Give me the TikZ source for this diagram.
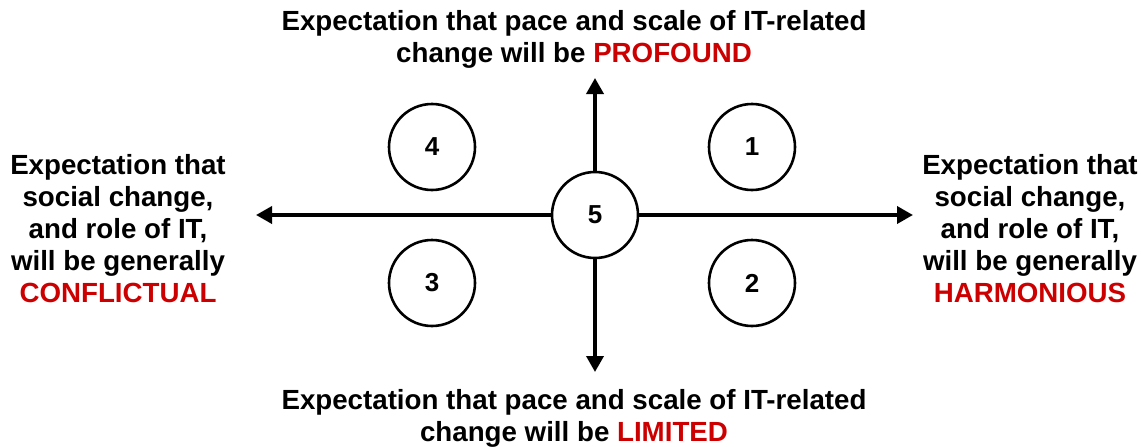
\documentclass[tikz,border=0pt]{standalone}
\usepackage{fontspec}
\setmainfont{Liberation Sans}
\usetikzlibrary{arrows.meta}
\definecolor{keyRed}{RGB}{204,0,0}
\newcommand\colorAxis{black}
\newcommand\colorKey{keyRed}
\newcommand\circleSize{86}
\newcommand\key[1]{\textcolor{\colorKey}{#1}}
\tikzset{
	quad/.style={circle, draw=black, line width=2.6pt, fill=white, minimum size=\circleSize pt, inner sep=0pt, font=\fontsize{26}{28}\selectfont\bfseries},
	axis/.style={draw=\colorAxis, line width=3.6pt, -{Triangle[length=16pt,width=17pt]}},
	label/.style={align=center, inner sep=0pt, font=\fontsize{27.7}{32}\selectfont\bfseries}
}

\begin{document}
\begin{tikzpicture}[x=1pt,y=-1pt]
		\useasboundingbox (0,0) rectangle (1141,447);
	
		% ends of the two axes
		\coordinate (west) at (256,215);
		\coordinate (east) at (913,215);
		\coordinate (north) at (595,78);
		\coordinate (south) at (595,372);
	
		\node[quad] (c5) at (595,215){5};
		\draw[axis] (c5.west) -- (west);
		\draw[axis] (c5.east) -- (east);
		\draw[axis] (c5.north) -- (north);
		\draw[axis] (c5.south) -- (south);
	
		\node[quad] (c1) at (752,147){1};
		\node[quad] (c2) at (752,283){2};
		\node[quad] (c3) at (432,283){3};
		\node[quad] (c4) at (432,147){4};
	
		\node[label] (top) at (574,39){Expectation that pace and scale of IT-related\\change will be \key{PROFOUND}};
		\node[label] (bottom) at (574,418.5){Expectation that pace and scale of IT-related\\change will be \key{LIMITED}};
		\node[label] (left) at (118,229){Expectation that\\social change,\\and role of IT,\\will be generally\\\key{CONFLICTUAL}};
		\node[label] (right) at (1030,229){Expectation that\\social change,\\and role of IT,\\will be generally\\\key{HARMONIOUS}};
	\end{tikzpicture}
\end{document}
